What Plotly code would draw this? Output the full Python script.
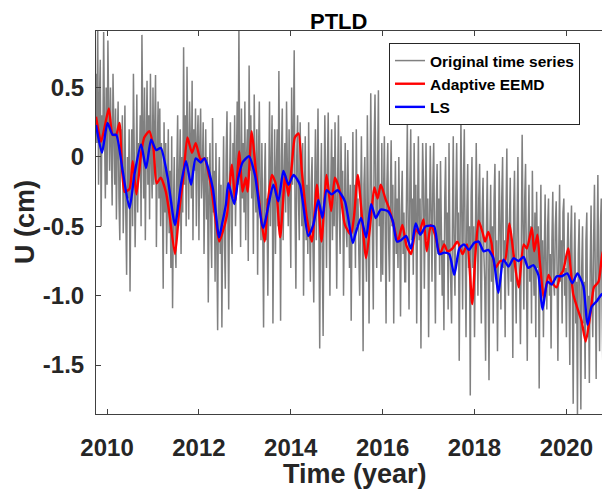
import plotly.graph_objects as go

# ---------------- data ----------------
grey_start = 2009.76
grey_step = 1.0 / 54.0
grey_values = [
    0.6, 0.1, 0.95, -0.2, 0.4, 0.7, -0.5, 0.3, 0.05, 0.9, 0.2, -0.3, 0.5,
    -0.2, 0.84, 0.3, -0.1, 0.5, 0.1, -0.35, 0.6, 0.2, -0.2, 0.35, -0.45, 0.1, 0.4, -0.3, -0.6, 0.2, -0.1, 0.3, -0.55, -0.2, 0.37, -0.4, -0.85, 0.0, -0.3, 0.2,
    -0.97, -0.2, 0.2, -0.5, 0.6, 0.0, -0.65, -0.2, 0.45, -0.4, 0.1, -0.1, 0.3, -0.5, 0.88, 0.2, -0.3, 0.5, -0.6, 0.1, 0.55, -0.2, 0.3, -0.45, 0.6, 0.0, -0.3,
    0.5, -0.2, 0.2, 0.59, -0.65, 0.0, 0.4, -0.3, 0.35, -0.5, 0.1, -0.2, -0.95, 0.25, -0.4, 0.1, -0.7, -0.3, 0.2, -0.55, -0.1, -0.8, 0.15, -1.09, -0.4, 0.0, -0.6,
    -0.8, -0.1, 0.3, -0.5, -0.2, 0.2, -0.7, 0.0, -0.4, 0.79, -0.2, 0.3, -0.5, 0.65, 0.0, -0.45, 0.4, 0.1, -0.3, 0.55, -0.6, 0.2, -0.1, 0.35, -0.5, 0.1, 0.3,
    -0.6, 0.1, 0.35, -0.3, -0.1, 0.25, -0.7, -0.2, 0.2, -0.45, 0.0, -1.05, -0.3, 0.1, -0.5, -0.8, 0.28, -0.4, -0.1, -0.9, 0.1, -0.6, -1.25, -0.3, 0.0, -0.7, -0.2,
    -1.23, -0.4, 0.15, -0.6, -0.95, 0.0, 0.33, -0.4, -1.1, -0.2, 0.25, -0.5, -0.7, 0.1, -0.3, 0.3, -0.5, -0.1, 0.4, -0.2, 0.95, -0.1, -0.65, 0.35, -0.3, 0.1, -0.4,
    0.4, -0.6, 0.0, 0.2, -0.75, 0.66, -0.1, 0.3, -0.3, 0.1, -0.7, 0.45, -0.2, -0.4, 0.2, -0.85, 0.0, 0.4, -0.3, -0.6, 0.1, -0.5, -1.23, -0.2, 0.1, -0.6, -0.3,
    -1.0, -0.3, 0.4, -0.5, -0.1, 0.3, -1.2, -0.4, 0.2, -0.7, -0.1, 0.2, -0.5, 0.62, -0.2, -1.18, 0.0, 0.35, -0.6, -0.2, 0.1, -0.4, 0.4, -0.1, -0.5, 0.2, -0.3,
    -0.8, 0.5, -0.2, 0.1, 0.77, -0.4, -0.95, 0.0, 0.3, -0.3, -0.6, 0.25, -0.2, -0.5, 0.1, -1.0, -0.3, 0.15, -0.6, -0.2, -0.7, 0.25, -0.45, -0.9, -0.2, 0.0, -0.6,
    -1.05, -0.3, 0.2, -0.6, -0.2, 0.35, -0.5, -1.38, -0.3, 0.1, -0.7, -1.29, -0.4, 0.3, -0.2, -0.8, -0.1, 0.32, -0.4, -1.0, -0.2, 0.2, -0.6, 0.0, -0.5, 0.25, -0.3,
    -0.95, -0.2, 0.3, -0.4, -0.7, 0.15, -0.3, -0.1, -1.0, -0.4, 0.1, -0.5, -0.65, 0.05, -0.3, -0.8, -0.2, -1.18, -0.4, 0.18, -0.6, -0.2, -0.8, 0.2, -0.5, -0.3, -0.7,
    -1.0, -0.4, 0.15, -0.5, -1.40, -0.2, 0.0, -0.6, -0.9, 0.3, -0.3, -1.2, -0.4, 0.46, -0.2, -0.6, -1.1, 0.1, 0.45, -0.3, -0.8, -0.1, 0.48, -0.5, -0.2, -0.9, 0.1,
    -0.85, -0.3, 0.15, -0.5, -1.2, -0.2, 0.1, -0.6, -0.9, -0.3, 0.12, -0.5, -0.2, -1.2, -0.5, -0.03, -0.7, -0.3, -0.8, 0.0, -0.5, -1.15, -0.4, -0.1, -0.7, -0.4, -0.9,
    -0.9, -0.3, 0.25, -0.5, -1.1, -0.2, 0.2, -0.6, -0.3, -0.85, 0.1, -0.5, -0.2, -1.2, -0.4, 0.15, -0.6, -0.3, -1.38, -0.5, 0.1, -0.2, -0.95, -0.4, 0.1, -0.6, -0.3,
    -1.3, -0.5, 0.08, -0.4, -0.9, -0.2, 0.1, -0.6, -1.2, -0.4, -0.05, -0.7, -0.3, -0.85, -0.03, -0.5, -1.0, -0.6, -1.25, -0.3, 0.0, -0.7, -0.4, -1.1, 0.1, -0.6, -0.9,
    -1.2, -0.5, 0.15, -0.7, -1.0, -0.3, 0.1, -0.6, -0.4, -1.47, -0.6, 0.28, -0.4, -1.1, -0.2, 0.2, -0.7, -1.3, -0.4, -0.05, -0.8, -0.5, -1.72, -0.3, 0.0, -0.8, -0.5,
    -1.3, -0.6, 0.1, -0.5, -1.0, -0.3, -0.05, -0.8, -1.2, -0.4, -0.15, -0.7, -0.9, -1.47, -0.5, -0.1, -0.8, -1.61, -0.6, -0.2, -0.9, -0.5, -1.2, -0.3, -0.05, -0.8, -0.6,
    -1.4, -0.7, -0.1, -0.5, -1.1, -0.3, 0.0, -0.8, -0.6, -1.3, -0.4, 0.06, -0.8, -1.0, -0.5, -0.15, -0.9, -0.6, -1.45, -0.4, -0.1, -0.8, -1.2, -0.5, 0.0, -0.7, -0.9,
    -1.35, -0.6, 0.16, -0.5, -1.1, -0.3, -0.05, -0.8, -1.47, -0.6, -0.2, -0.9, -0.5, -1.2, -0.1, -0.7, -1.0, -0.4, -1.3, -0.25, -0.8, -0.5, -1.67, -0.7, -0.2, -1.0, -0.6,
    -1.3, -0.7, -0.27, -0.9, -1.1, -0.5, -0.3, -1.0, -0.7, -1.38, -0.6, -0.25, -0.9, -1.0, -0.5, -0.32, -0.8, -1.47, -0.7, -0.2, -0.9, -0.6, -1.2, -0.4, -0.3, -1.0, -0.8,
    -1.3, -0.7, -0.4, -0.9, -1.5, -0.6, -0.35, -1.0, -1.78, -0.8, -0.4, -1.2, -0.9, -1.86, -0.7, -0.45, -1.1, -1.82, -0.8, -0.5, -1.2, -0.9, -1.6, -0.6, -0.4, -1.3, -1.0,
    -1.63, -0.8, -0.35, -1.0, -1.3, -0.6, -0.2, -0.9, -1.6, -0.7, -0.13, -0.9, -1.4, -0.5, -0.3, -1.1, -1.6, -0.7, -0.25, -0.8, -1.5, -0.9, -0.35, -1.2, -1.0, -0.6, -1.3,
]
grey_time = [grey_start + i * grey_step for i in range(len(grey_values))]

eemd_time = [
    2009.76, 2009.87, 2009.95, 2010.04, 2010.12, 2010.20, 2010.27, 2010.38, 2010.49, 2010.56,
    2010.64, 2010.74, 2010.81, 2010.92, 2011.01, 2011.08, 2011.17, 2011.28, 2011.35, 2011.48,
    2011.57, 2011.66, 2011.75, 2011.85, 2011.93, 2012.04, 2012.12, 2012.26, 2012.44, 2012.50,
    2012.61, 2012.72, 2012.79, 2012.88, 2012.95, 2013.02, 2013.06, 2013.15, 2013.24, 2013.33,
    2013.43, 2013.51, 2013.59, 2013.67, 2013.77, 2013.88, 2013.95, 2014.02, 2014.09, 2014.17,
    2014.24, 2014.35, 2014.46, 2014.57, 2014.67, 2014.78, 2014.88, 2014.96, 2015.07, 2015.18,
    2015.31, 2015.38, 2015.46, 2015.64, 2015.75, 2015.82, 2015.89, 2015.96, 2016.06, 2016.14,
    2016.24, 2016.33, 2016.43, 2016.52, 2016.62, 2016.72, 2016.79, 2016.89, 2016.96, 2017.05,
    2017.14, 2017.25, 2017.34, 2017.41, 2017.52, 2017.63, 2017.74, 2017.84, 2017.95, 2018.02,
    2018.09, 2018.18, 2018.23, 2018.30, 2018.37, 2018.45, 2018.56, 2018.66, 2018.76, 2018.85,
    2018.96, 2019.07, 2019.14, 2019.25, 2019.30, 2019.37, 2019.42, 2019.51, 2019.61, 2019.68,
    2019.79, 2019.87, 2019.93, 2020.04, 2020.15, 2020.26, 2020.33, 2020.42, 2020.52, 2020.60,
    2020.70, 2020.79, 2020.87, 2020.94,
]
eemd_values = [
    0.29, 0.11, 0.22, 0.35, 0.16, 0.16, 0.245, -0.25, -0.23, -0.03,
    -0.27, 0.02, 0.14, 0.185, 0.065, -0.19, -0.15, -0.25, -0.39, -0.70,
    -0.39, -0.15, 0.14, 0.03, 0.10, -0.02, -0.01, -0.20, -0.61, -0.56,
    -0.42, -0.055, -0.32, 0.04, -0.25, -0.15, -0.25, 0.185, -0.10, -0.37,
    -0.61, -0.30, -0.13, -0.19, -0.58, -0.13, -0.28, -0.07, 0.14, 0.17,
    -0.10, -0.44, -0.61, -0.20, -0.61, -0.13, -0.39, -0.15, -0.25, -0.49,
    -0.56, -0.42, -0.13, -0.73, -0.42, -0.22, -0.30, -0.20, -0.30, -0.37,
    -0.49, -0.61, -0.49, -0.64, -0.70, -0.52, -0.55, -0.45, -0.68, -0.49,
    -0.56, -0.70, -0.63, -0.68, -0.66, -0.61, -0.70, -0.63, -1.06, -0.70,
    -0.46, -0.55, -0.61, -0.54, -0.62, -0.80, -0.75, -0.75, -0.48, -0.70,
    -0.94, -0.63, -0.66, -0.51, -0.68, -0.56, -0.75, -1.02, -0.85, -0.90,
    -0.94, -0.85, -0.82, -0.66, -0.99, -1.11, -1.18, -1.33, -1.14, -0.94,
    -0.90, -0.68, -0.94, -1.18,
]

ls_time = [
    2009.76, 2009.89, 2010.01, 2010.12, 2010.20, 2010.34, 2010.49, 2010.60, 2010.74, 2010.85,
    2010.96, 2011.07, 2011.17, 2011.32, 2011.48, 2011.61, 2011.72, 2011.83, 2011.93, 2012.04,
    2012.12, 2012.30, 2012.44, 2012.50, 2012.59, 2012.64, 2012.77, 2012.86, 2012.95, 2013.09,
    2013.22, 2013.40, 2013.62, 2013.73, 2013.84, 2013.95, 2014.06, 2014.20, 2014.38, 2014.49,
    2014.60, 2014.69, 2014.78, 2014.89, 2015.02, 2015.18, 2015.35, 2015.42, 2015.53, 2015.64,
    2015.75, 2015.85, 2015.96, 2016.11, 2016.22, 2016.31, 2016.40, 2016.51, 2016.62, 2016.72,
    2016.82, 2016.94, 2017.12, 2017.23, 2017.34, 2017.45, 2017.56, 2017.67, 2017.77, 2017.88,
    2017.99, 2018.09, 2018.20, 2018.30, 2018.41, 2018.52, 2018.63, 2018.74, 2018.85, 2018.96,
    2019.07, 2019.17, 2019.28, 2019.39, 2019.48, 2019.59, 2019.68, 2019.79, 2019.90, 2020.02,
    2020.13, 2020.24, 2020.37, 2020.46, 2020.55, 2020.66, 2020.77, 2020.88, 2020.96,
]
ls_values = [
    0.23, 0.03, 0.245, 0.16, 0.16, -0.10, -0.37, -0.12, 0.09, -0.08,
    0.125, 0.05, 0.065, -0.15, -0.49, -0.20, -0.03, -0.20, -0.01, -0.04,
    -0.01, -0.22, -0.58, -0.49, -0.34, -0.19, -0.34, -0.15, -0.04, 0.005,
    -0.13, -0.51, -0.20, -0.32, -0.10, -0.20, -0.13, -0.20, -0.57, -0.49,
    -0.31, -0.44, -0.24, -0.27, -0.24, -0.32, -0.62, -0.54, -0.44, -0.58,
    -0.34, -0.44, -0.38, -0.39, -0.46, -0.61, -0.60, -0.57, -0.66, -0.48,
    -0.56, -0.50, -0.50, -0.70, -0.69, -0.70, -0.85, -0.66, -0.63, -0.67,
    -0.62, -0.61, -0.68, -0.67, -0.73, -0.98, -0.74, -0.79, -0.73, -0.75,
    -0.72, -0.80, -0.78, -0.85, -1.10, -0.90, -0.92, -0.86, -0.86, -0.84,
    -0.91, -0.84, -0.93, -1.21, -1.08, -1.04, -0.99, -0.98, -1.00,
]

x_tickvals = [2010, 2012, 2014, 2016, 2018, 2020]
x_ticktext = ["2010", "2012", "2014", "2016", "2018", "2020"]
y_tickvals = [-1.5, -1.0, -0.5, 0.0, 0.5]
y_ticktext = ["-1.5", "-1.0", "-0.5", "0", "0.5"]

# ---------------- figure ----------------
FONT = "Liberation Sans, Arial, Helvetica, sans-serif"
AX = "#404040"
TXT = "#262626"
OFF = 8                      # page body margin that precedes the figure
L, T, W, H = 96 - OFF, 31 - OFF, 514, 383
FIG_W, FIG_H = 610 - OFF, 495 - OFF

fig = go.Figure()
fig.add_trace(go.Scatter(x=grey_time, y=grey_values, mode="lines",
                         name="Original time series",
                         line=dict(color="rgb(128,128,128)", width=1.5, simplify=False)))
fig.add_trace(go.Scatter(x=eemd_time, y=eemd_values, mode="lines",
                         name="Adaptive EEMD",
                         line=dict(color="rgb(255,0,0)", width=2.4, shape="spline", smoothing=0.6)))
fig.add_trace(go.Scatter(x=ls_time, y=ls_values, mode="lines",
                         name="LS",
                         line=dict(color="rgb(0,0,255)", width=2.4, shape="spline", smoothing=0.6)))

axis_common = dict(
    showgrid=False, zeroline=False, showline=True, linecolor=AX, linewidth=1,
    mirror="ticks", ticks="inside", ticklen=5, tickcolor=AX, tickwidth=1,
    automargin=False,
    tickfont=dict(family=FONT, size=24, color=TXT, weight="bold"),
)

fig.update_layout(
    width=FIG_W, height=FIG_H,
    margin=dict(l=L, r=FIG_W - L - W, t=T, b=FIG_H - T - H, autoexpand=False),
    paper_bgcolor="white", plot_bgcolor="white",
    showlegend=True,
    legend=dict(x=(389 - 96) / W, y=(414 - 43) / H, xanchor="left", yanchor="top",
                bgcolor="white", bordercolor=TXT, borderwidth=1,
                font=dict(family=FONT, size=15.5, color="black", weight="bold"),
                tracegroupgap=0),
    xaxis=dict(range=[2009.76, 2020.95], tickvals=x_tickvals, ticktext=x_ticktext,
               ticklabelstandoff=12, **axis_common),
    yaxis=dict(range=[-1.853, 0.908], tickvals=y_tickvals, ticktext=y_ticktext,
               ticklabelstandoff=6, **axis_common),
    annotations=[
        dict(text="PTLD", xref="paper", yref="paper", x=(338.5 - 96) / W, y=1,
             xanchor="center", yanchor="middle", yshift=31 - 21, borderpad=0, showarrow=False,
             font=dict(family=FONT, size=22, color="black", weight="bold")),
        dict(text="Time (year)", xref="paper", yref="paper", x=(355 - 96) / W, y=0,
             xanchor="center", yanchor="middle", yshift=-(474 - 414), showarrow=False,
             font=dict(family=FONT, size=27, color=TXT, weight="bold")),
        dict(text="U (cm)", xref="paper", yref="paper", x=0, y=(414 - 222) / H,
             xanchor="center", yanchor="middle", xshift=25 - 96, textangle=-90, showarrow=False,
             font=dict(family=FONT, size=27, color=TXT, weight="bold")),
    ],
)

fig.write_html("out.html")
